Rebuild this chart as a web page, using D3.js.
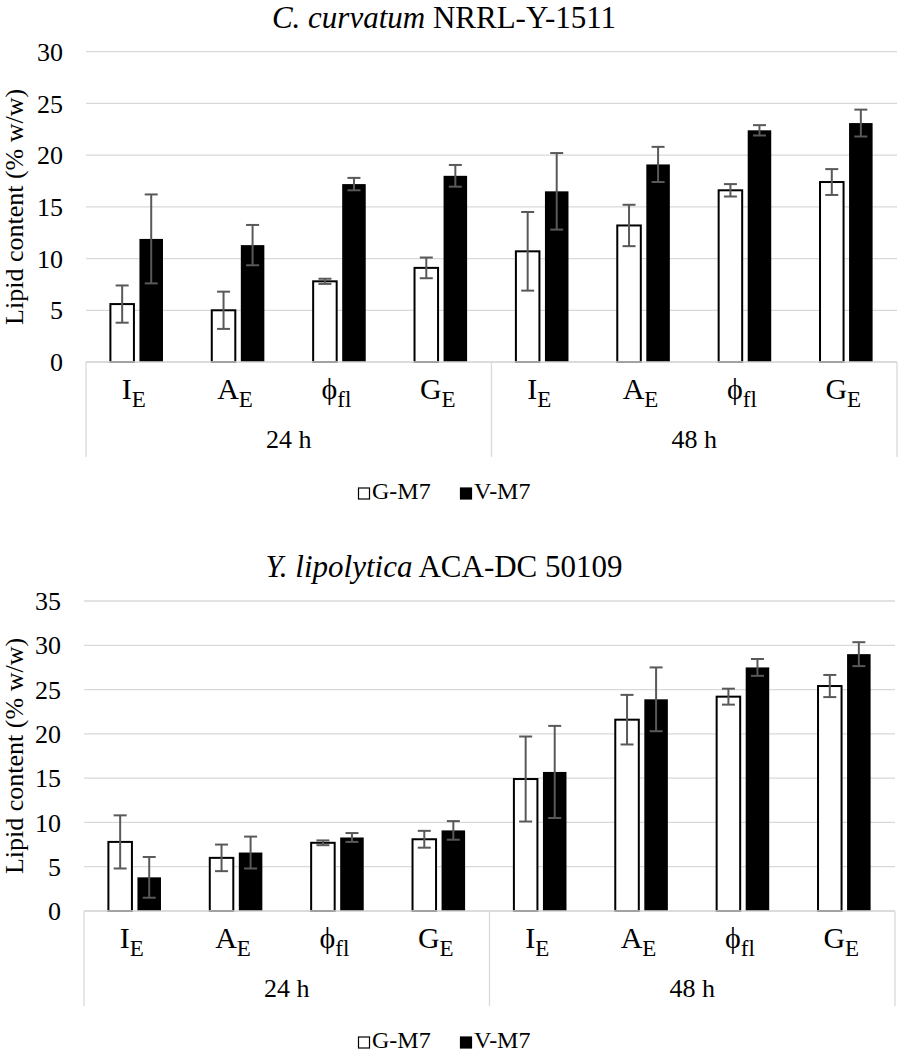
<!DOCTYPE html>
<html>
<head>
<meta charset="utf-8">
<script src="https://cdn.jsdelivr.net/npm/d3@7"></script>
<style>
  body { margin: 0; background: #fff; }
  svg text { font-family: "Liberation Serif", "Times New Roman", serif; fill: #000; }
</style>
</head>
<body>
<div id="chart"></div>
<script>
// category labels: main letter + subscript, two time groups
const catMain = ["I", "A", "\u03D5", "G"];
const catSub = ["E", "E", "fl", "E"];
const timeGroups = ["24 h", "48 h"];
const seriesNames = ["G-M7", "V-M7"];

// C. curvatum NRRL-Y-1511
const curvGM7 = [5.6, 5.0, 7.8, 9.1, 10.7, 13.2, 16.6, 17.4];
const curvGM7Err = [1.8, 1.8, 0.25, 1.0, 3.8, 2.0, 0.6, 1.25];
const curvVM7 = [11.9, 11.3, 17.2, 18.0, 16.5, 19.1, 22.4, 23.1];
const curvVM7Err = [4.3, 1.95, 0.6, 1.05, 3.7, 1.7, 0.5, 1.3];
const curvTicks = [0, 5, 10, 15, 20, 25, 30];

// Y. lipolytica ACA-DC 50109
const lipoGM7 = [7.8, 6.0, 7.7, 8.1, 14.9, 21.6, 24.2, 25.4];
const lipoGM7Err = [3.0, 1.5, 0.27, 0.95, 4.8, 2.8, 0.9, 1.25];
const lipoVM7 = [3.8, 6.6, 8.3, 9.1, 15.7, 23.9, 27.5, 29.0];
const lipoVM7Err = [2.3, 1.8, 0.5, 1.05, 5.2, 3.6, 0.95, 1.35];
const lipoTicks = [0, 5, 10, 15, 20, 25, 30, 35];

const W = 898, H = 1057;
const svg = d3.select("#chart").append("svg")
    .attr("width", W)
    .attr("height", H);

function drawPanel(opts) {
    const g = svg.append("g");
    const left = opts.left, right = opts.right;
    const top = opts.top, bottom = opts.bottom;

    const keys = d3.range(8);
    const x0 = d3.scaleBand().domain(keys).range([left, right]).padding(0);
    const x1 = d3.scaleBand().domain(seriesNames).range([0, x0.bandwidth()])
        .paddingInner(0.19).paddingOuter(0.84);
    const y = d3.scaleLinear().domain([0, d3.max(opts.ticks)]).range([bottom, top]);

    // title
    g.append("text")
        .attr("x", 444)
        .attr("y", top - 24)
        .attr("text-anchor", "middle")
        .style("font-size", "31px")
        .call(t => {
            t.append("tspan").style("font-style", "italic").text(opts.italic);
            t.append("tspan").text(" " + opts.rest);
        });

    // gridlines
    g.selectAll(".grid")
        .data(opts.ticks)
        .enter()
        .append("line")
        .attr("x1", left)
        .attr("x2", right)
        .attr("y1", d => y(d))
        .attr("y2", d => y(d))
        .attr("stroke", "#d9d9d9")
        .attr("stroke-width", 1.3);

    // y tick labels
    g.selectAll(".ytick")
        .data(opts.ticks)
        .enter()
        .append("text")
        .attr("x", left - 23)
        .attr("y", d => y(d))
        .attr("dy", "0.35em")
        .attr("text-anchor", "end")
        .style("font-size", "26px")
        .text(d => d);

    // y axis title
    g.append("text")
        .attr("transform", `translate(23,${(top + bottom) / 2}) rotate(-90)`)
        .attr("text-anchor", "middle")
        .style("font-size", "26px")
        .text("Lipid content (% w/w)");

    // multi-level category box
    const sepLen = 95;
    [left, x0(4), right].forEach(xv => {
        g.append("line")
            .attr("x1", xv).attr("x2", xv)
            .attr("y1", bottom).attr("y2", bottom + sepLen)
            .attr("stroke", "#d9d9d9")
            .attr("stroke-width", 1.3);
    });

    const rows = keys.map(i => ({
        key: i,
        series: [
            {name: "G-M7", value: opts.g[i], err: opts.gErr[i]},
            {name: "V-M7", value: opts.v[i], err: opts.vErr[i]}
        ]
    }));

    const cat = g.selectAll(".cat")
        .data(rows)
        .enter()
        .append("g")
        .attr("transform", d => `translate(${x0(d.key)},0)`);

    // bars
    cat.selectAll("rect")
        .data(d => d.series)
        .enter()
        .append("rect")
        .attr("x", d => x1(d.name))
        .attr("y", d => y(d.value))
        .attr("width", x1.bandwidth())
        .attr("height", d => bottom - y(d.value))
        .attr("fill", d => d.name === "G-M7" ? "#fff" : "#000")
        .attr("stroke", "#000")
        .attr("stroke-width", d => d.name === "G-M7" ? 2 : 0);

    // error bars
    const capW = 13;
    const eb = cat.selectAll(".err")
        .data(d => d.series)
        .enter()
        .append("g")
        .attr("stroke", "#595959")
        .attr("stroke-width", 2);
    eb.append("line")
        .attr("x1", d => x1(d.name) + x1.bandwidth() / 2)
        .attr("x2", d => x1(d.name) + x1.bandwidth() / 2)
        .attr("y1", d => y(d.value + d.err))
        .attr("y2", d => y(d.value - d.err));
    [1, -1].forEach(s => {
        eb.append("line")
            .attr("x1", d => x1(d.name) + x1.bandwidth() / 2 - capW / 2)
            .attr("x2", d => x1(d.name) + x1.bandwidth() / 2 + capW / 2)
            .attr("y1", d => y(d.value + s * d.err))
            .attr("y2", d => y(d.value + s * d.err));
    });

    // baseline axis
    g.append("line")
        .attr("x1", left).attr("x2", right)
        .attr("y1", bottom).attr("y2", bottom)
        .attr("stroke", "#d9d9d9")
        .attr("stroke-width", 1.3);

    // inner category labels
    g.selectAll(".clab")
        .data(keys)
        .enter()
        .append("text")
        .attr("x", d => x0(d) + x0.bandwidth() / 2 - 3)
        .attr("y", bottom + 37)
        .attr("text-anchor", "middle")
        .call(t => {
            t.append("tspan").style("font-size", "30px").text(d => catMain[d % 4]);
            t.append("tspan").style("font-size", "23px").attr("dy", 8).text(d => catSub[d % 4]);
        });

    // time group labels
    g.selectAll(".tlab")
        .data(timeGroups)
        .enter()
        .append("text")
        .attr("x", (d, i) => (x0(i * 4) + (i === 0 ? x0(4) : right)) / 2)
        .attr("y", bottom + 86)
        .attr("text-anchor", "middle")
        .style("font-size", "26px")
        .text(d => d);

    // legend
    const ly = bottom + 137;
    const legend = g.selectAll(".leg")
        .data(seriesNames)
        .enter()
        .append("g")
        .attr("transform", (d, i) => `translate(${358 + i * 102},${ly})`);
    legend.append("rect")
        .attr("x", 0.5)
        .attr("y", -11)
        .attr("width", 11)
        .attr("height", 11)
        .attr("fill", d => d === "G-M7" ? "#fff" : "#000")
        .attr("stroke", "#000")
        .attr("stroke-width", 1.2);
    legend.append("text")
        .attr("x", 14)
        .attr("y", 0)
        .style("font-size", "24px")
        .text(d => d);
}

drawPanel({
    italic: "C. curvatum", rest: "NRRL-Y-1511",
    left: 86, right: 897, top: 51.7, bottom: 362,
    ticks: curvTicks,
    g: curvGM7, gErr: curvGM7Err, v: curvVM7, vErr: curvVM7Err
});

drawPanel({
    italic: "Y. lipolytica", rest: "ACA-DC 50109",
    left: 84, right: 895, top: 601, bottom: 911,
    ticks: lipoTicks,
    g: lipoGM7, gErr: lipoGM7Err, v: lipoVM7, vErr: lipoVM7Err
});
</script>
</body>
</html>
